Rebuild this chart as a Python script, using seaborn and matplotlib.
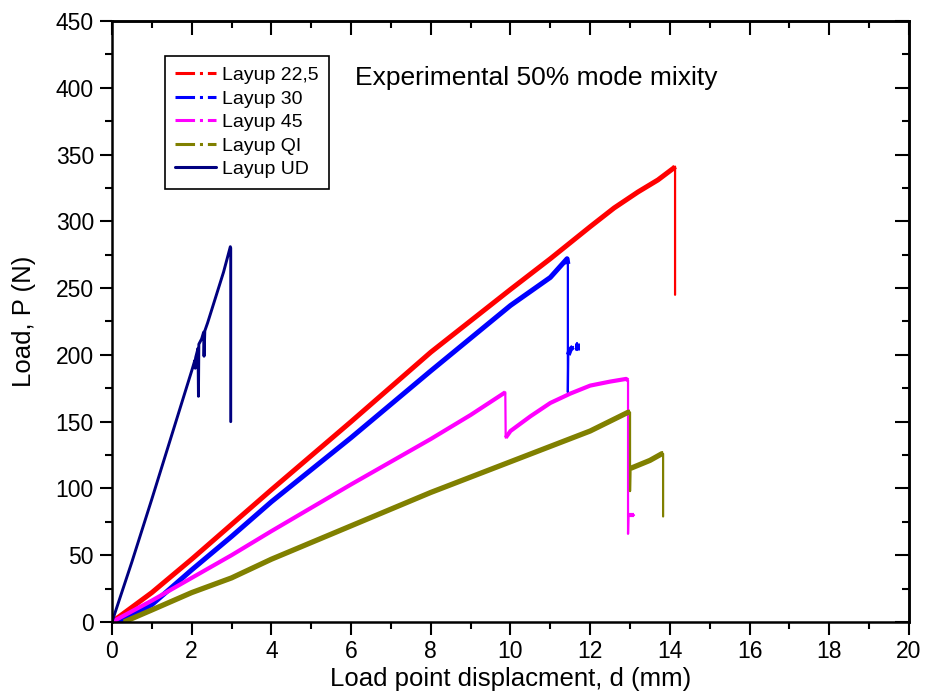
import numpy as np
import pandas as pd
import matplotlib
matplotlib.use("Agg")
import matplotlib.pyplot as plt
import seaborn as sns
from matplotlib.lines import Line2D
from matplotlib.ticker import MultipleLocator, NullFormatter

# ---------------- data ----------------
series_names = ["Layup 22,5", "Layup 30", "Layup 45", "Layup QI", "Layup UD"]
series_colors = ["#FF0000", "#0000FF", "#FF00FF", "#808000", "#000080"]

x_225 = [0.0, 1.0, 2.0, 3.0, 4.0, 6.0, 8.0, 10.0, 11.0, 12.0, 12.6, 13.2, 13.7, 14.1, 14.13, 14.13]
y_225 = [0.0, 22, 47, 73, 99, 150, 202, 249, 272, 296, 310, 322, 331, 340, 341, 245]

x_30 = [0.15, 1.0, 2.0, 3.0, 4.0, 6.0, 8.0, 10.0, 11.0, 11.42, 11.44, 11.44, 11.45, 11.5, 11.57]
y_30 = [0.0, 13, 39, 64, 90, 138, 188, 237, 258, 272, 268, 172, 200, 204, 206]
x_30b = [11.68, 11.68]
y_30b = [204, 209]

x_45 = [0.0, 1.0, 2.0, 3.0, 4.0, 6.0, 8.0, 9.0, 9.87, 9.88, 10.0, 10.5, 11.0, 11.5, 12.0, 12.5, 12.9, 12.95, 12.95, 12.96, 13.1]
y_45 = [0.0, 16, 33, 50, 68, 103, 137, 155, 172, 138, 143, 154, 164, 171, 177, 180, 182, 181, 66, 80, 80]

x_qi = [0.3, 1.0, 2.0, 3.0, 4.0, 6.0, 8.0, 10.0, 12.0, 12.95, 13.0, 13.0, 13.01, 13.5, 13.8, 13.83, 13.83]
y_qi = [0.0, 9, 22, 33, 47, 72, 97, 120, 143, 157, 157, 98, 115, 121, 126, 126, 79]

x_ud = [0.0, 0.5, 1.0, 1.5, 2.0, 2.08, 2.09, 2.1, 2.16, 2.17, 2.18, 2.25, 2.3, 2.31, 2.33, 2.4, 2.6, 2.8, 2.97, 2.98, 2.98]
y_ud = [0.0, 45, 92, 140, 188, 196, 190, 198, 205, 169, 208, 212, 217, 199, 218, 224, 243, 262, 281, 280, 150]

x_ticks = list(range(0, 21, 2))
y_ticks = list(range(0, 451, 50))

# ---------------- build tidy frames ----------------
paths = [
    ("Layup 22,5", x_225, y_225),
    ("Layup 30", x_30, y_30),
    ("Layup 30", x_30b, y_30b),
    ("Layup 45", x_45, y_45),
    ("Layup QI", x_qi, y_qi),
    ("Layup UD", x_ud, y_ud),
]

thin_rows, thick_rows = [], []
uid = 0
for name, xs, ys in paths:
    uid += 1
    for i, (a, b) in enumerate(zip(xs, ys)):
        thin_rows.append(dict(x=a, y=b, series=name, unit=f"t{uid}", order=i))
    if name == "Layup UD":
        continue
    # thick runs = loading parts (no vertical drops)
    cur = [0]
    runs = []
    for i in range(1, len(xs)):
        if abs(xs[i] - xs[i - 1]) < 0.05 and abs(ys[i] - ys[i - 1]) > 5:
            if len(cur) > 1:
                runs.append(cur)
            cur = [i]
        else:
            cur.append(i)
    if len(cur) > 1:
        runs.append(cur)
    for r, idx in enumerate(runs):
        for k, i in enumerate(idx):
            thick_rows.append(dict(x=xs[i], y=ys[i], series=name, unit=f"k{uid}_{r}", order=k))

thin_df = pd.DataFrame(thin_rows)
thick_df = pd.DataFrame(thick_rows)
palette = dict(zip(series_names, series_colors))

# ---------------- plot ----------------
sns.set_theme(style="ticks")
plt.rcParams["font.family"] = ["Liberation Sans", "DejaVu Sans"]
plt.rcParams["text.color"] = "black"
plt.rcParams["axes.labelcolor"] = "black"
plt.rcParams["xtick.color"] = "black"
plt.rcParams["ytick.color"] = "black"
plt.rcParams["axes.edgecolor"] = "black"

fig = plt.figure(figsize=(9.3, 6.98), dpi=100)
ax = fig.add_axes([0.1204, 0.1089, 0.857, 0.861])

widths = {"Layup 22,5": 3.6, "Layup 30": 3.6, "Layup 45": 3.0, "Layup QI": 3.8}
for name in series_names[:4]:
    sub_thin = thin_df[thin_df.series == name]
    sns.lineplot(data=sub_thin, x="x", y="y", units="unit", estimator=None, sort=False,
                 color=palette[name], linewidth=1.6, ax=ax, legend=False)
    sub_thick = thick_df[thick_df.series == name]
    sns.lineplot(data=sub_thick, x="x", y="y", units="unit", estimator=None, sort=False,
                 color=palette[name], linewidth=widths[name], ax=ax, legend=False,
                 solid_joinstyle="round", solid_capstyle="butt")

sub_ud = thin_df[thin_df.series == "Layup UD"]
sns.lineplot(data=sub_ud, x="x", y="y", units="unit", estimator=None, sort=False,
             color=palette["Layup UD"], linewidth=2.1, ax=ax, legend=False)

ax.set_xlim(0, 20)
ax.set_ylim(0, 450)
ax.set_xticks(x_ticks)
ax.set_yticks(y_ticks)
ax.xaxis.set_minor_locator(MultipleLocator(1))
ax.yaxis.set_minor_locator(MultipleLocator(25))
ax.tick_params(which="major", direction="out", length=9, width=1.5, labelsize=16.5,
               colors="black", pad=4)
ax.tick_params(which="minor", direction="out", length=5, width=1.5, colors="black")
for s in ax.spines.values():
    s.set_linewidth(1.8)
    s.set_color("black")
    s.set_visible(True)

# inward ticks on top and right
secx = ax.secondary_xaxis("top")
secx.xaxis.set_major_locator(MultipleLocator(2))
secx.xaxis.set_minor_locator(MultipleLocator(1))
secx.xaxis.set_major_formatter(NullFormatter())
secx.tick_params(which="major", direction="in", length=10, width=1.5, colors="black")
secx.tick_params(which="minor", direction="in", length=5, width=1.5, colors="black")
secx.spines["top"].set_linewidth(1.8)
secx.spines["top"].set_color("black")
secy = ax.secondary_yaxis("right")
secy.yaxis.set_major_locator(MultipleLocator(50))
secy.yaxis.set_minor_locator(MultipleLocator(25))
secy.yaxis.set_major_formatter(NullFormatter())
secy.tick_params(which="major", direction="in", length=10, width=1.5, colors="black")
secy.tick_params(which="minor", direction="in", length=5, width=1.5, colors="black")
secy.spines["right"].set_linewidth(1.8)
secy.spines["right"].set_color("black")

ax.set_xlabel("Load point displacment, d (mm)", fontsize=18.5, labelpad=3, color="black")
ax.set_ylabel("Load, P (N)", fontsize=18.5, labelpad=14, color="black")

ax.text(0.305, 0.905, "Experimental 50% mode mixity", transform=ax.transAxes,
        fontsize=19, va="center", ha="left", color="black")

handles = []
for name, col in zip(series_names, series_colors):
    ls = "-" if name == "Layup UD" else "-."
    handles.append(Line2D([0], [0], color=col, linestyle=ls, linewidth=2.2))
leg = ax.legend(handles, series_names, loc="upper left", bbox_to_anchor=(0.066, 0.942),
                fontsize=14, frameon=True, fancybox=False, framealpha=1,
                edgecolor="black", handlelength=2.1, handletextpad=0.3,
                labelspacing=0.3, borderpad=0.55, borderaxespad=0, labelcolor="black")
leg.get_frame().set_linewidth(1.2)

fig.savefig("out.png", dpi=100)
